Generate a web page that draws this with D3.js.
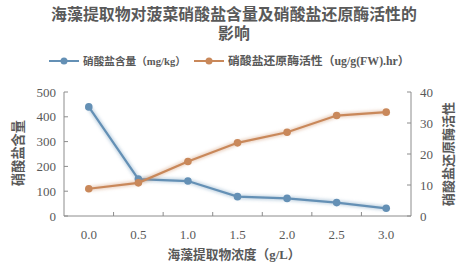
<!DOCTYPE html>
<html>
<head>
<meta charset="utf-8">
<script src="https://cdn.jsdelivr.net/npm/d3@7"></script>
<style>
  body { margin: 0; background: #fff; }
  svg text { fill: #595959; }
  .cjk { font-family: "Liberation Serif", "Noto Sans CJK SC", serif; }
  .num { font-family: "Liberation Serif", serif; }
</style>
</head>
<body>
<div id="chart"></div>
<script>
// data
const concentrations = ["0.0", "0.5", "1.0", "1.5", "2.0", "2.5", "3.0"];
const nitrate = [440, 149, 141, 78, 71, 54, 31];          // mg/kg, left axis
const reductase = [8.8, 10.7, 17.6, 23.6, 27.0, 32.4, 33.5]; // ug/g(FW).hr, right axis
const leftTicks = [0, 100, 200, 300, 400, 500];
const rightTicks = [0, 10, 20, 30, 40];

const W = 469, H = 275;
const margin = {top: 92, right: 58, bottom: 59, left: 64};
const blue = "#6490b5", orange = "#c9885a", axisCol = "#8c8c8c";

const svg = d3.select("#chart").append("svg")
    .attr("width", W).attr("height", H);

// soft glow like the original's line shadow
svg.append("defs").append("filter").attr("id", "glow")
    .attr("x", "-10%").attr("y", "-10%").attr("width", "120%").attr("height", "120%")
    .append("feGaussianBlur").attr("stdDeviation", 1.5);

// scale a text's font so it spans the given width
function fitWidth(sel, w) {
    const fs = parseFloat(sel.style("font-size"));
    const len = sel.node().getComputedTextLength();
    if (len > 0) sel.style("font-size", (fs * w / len) + "px");
}

const x = d3.scaleBand()
    .domain(concentrations)
    .range([margin.left, W - margin.right]);
const yL = d3.scaleLinear().domain([0, 500]).range([H - margin.bottom, margin.top]);
const yR = d3.scaleLinear().domain([0, 40]).range([H - margin.bottom, margin.top]);
const cx = d => x(d) + x.bandwidth() / 2;

// title, two lines in one text element
const title = svg.append("text").attr("class", "cjk")
    .attr("text-anchor", "middle")
    .style("font-size", "15px").style("font-weight", "bold");
const t1 = title.append("tspan").attr("x", 234).attr("y", 20)
    .text("海藻提取物对菠菜硝酸盐含量及硝酸盐还原酶活性的");
title.append("tspan").attr("x", 234).attr("y", 39)
    .text("影响");
{
    const len = t1.node().getComputedTextLength();
    if (len > 0) title.style("font-size", (15 * 366 / len) + "px");
}

// legend
const legendItems = [
    {name: "硝酸盐含量（mg/kg）", color: blue, x: 49, w: 103},
    {name: "硝酸盐还原酶活性（ug/g(FW).hr）", color: orange, x: 194, w: 182}
];
const lg = svg.append("g").selectAll("g").data(legendItems).join("g")
    .attr("transform", d => `translate(${d.x},61)`);
lg.append("line").attr("x1", 0).attr("x2", 30)
    .attr("stroke", d => d.color).attr("stroke-width", 2);
lg.append("circle").attr("cx", 15).attr("r", 3.5).attr("fill", d => d.color);
lg.append("text").attr("class", "cjk")
    .attr("x", 34).attr("y", 4)
    .style("font-size", "12px").style("font-weight", "bold")
    .text(d => d.name)
    .each(function(d) { fitWidth(d3.select(this), d.w); });

// axes
const base = H - margin.bottom;
svg.append("line")
    .attr("x1", margin.left).attr("x2", W - margin.right)
    .attr("y1", base).attr("y2", base)
    .attr("stroke", axisCol);
svg.append("line")
    .attr("x1", margin.left).attr("x2", margin.left)
    .attr("y1", yL(500)).attr("y2", base)
    .attr("stroke", axisCol);
svg.append("line")
    .attr("x1", W - margin.right).attr("x2", W - margin.right)
    .attr("y1", yR(40)).attr("y2", base)
    .attr("stroke", axisCol);

// x ticks at band boundaries
svg.append("g").selectAll("line").data(concentrations.slice(1)).join("line")
    .attr("x1", d => x(d)).attr("x2", d => x(d))
    .attr("y1", base).attr("y2", base - 4)
    .attr("stroke", axisCol);
svg.append("g").selectAll("text").data(concentrations).join("text")
    .attr("class", "num")
    .attr("x", cx).attr("y", base + 23)
    .attr("text-anchor", "middle")
    .style("font-size", "13px")
    .text(d => d);

// left ticks
svg.append("g").selectAll("line").data(leftTicks).join("line")
    .attr("x1", margin.left).attr("x2", margin.left + 4)
    .attr("y1", d => yL(d)).attr("y2", d => yL(d))
    .attr("stroke", axisCol);
svg.append("g").selectAll("text").data(leftTicks).join("text")
    .attr("class", "num")
    .attr("x", margin.left - 8).attr("y", d => yL(d) + 4.5)
    .attr("text-anchor", "end")
    .style("font-size", "13px")
    .text(d => d);

// right ticks
svg.append("g").selectAll("line").data(rightTicks).join("line")
    .attr("x1", W - margin.right - 4).attr("x2", W - margin.right)
    .attr("y1", d => yR(d)).attr("y2", d => yR(d))
    .attr("stroke", axisCol);
svg.append("g").selectAll("text").data(rightTicks).join("text")
    .attr("class", "num")
    .attr("x", W - margin.right + 9).attr("y", d => yR(d) + 4.5)
    .attr("text-anchor", "start")
    .style("font-size", "13px")
    .text(d => d);

// axis titles
const yTitleL = svg.append("text").attr("class", "cjk")
    .attr("transform", "translate(23,153) rotate(-90)")
    .attr("text-anchor", "middle")
    .style("font-size", "13px").style("font-weight", "bold")
    .text("硝酸盐含量");
fitWidth(yTitleL, 66);
const yTitleR = svg.append("text").attr("class", "cjk")
    .attr("transform", "translate(453,154) rotate(-90)")
    .attr("text-anchor", "middle")
    .style("font-size", "13px").style("font-weight", "bold")
    .text("硝酸盐还原酶活性");
fitWidth(yTitleR, 104);
const xTitle = svg.append("text").attr("class", "cjk")
    .attr("x", 234).attr("y", 259)
    .attr("text-anchor", "middle")
    .style("font-size", "13px").style("font-weight", "bold")
    .text("海藻提取物浓度（g/L）");
fitWidth(xTitle, 133);

// series
const series = [
    {values: nitrate, y: yL, color: blue},
    {values: reductase, y: yR, color: orange}
];
series.forEach(s => {
    const pts = concentrations.map((c, i) => [cx(c), s.y(s.values[i])]);
    const line = d3.line()(pts);
    svg.append("path")
        .attr("d", line)
        .attr("fill", "none")
        .attr("stroke", s.color)
        .attr("stroke-opacity", 0.35)
        .attr("stroke-width", 5)
        .attr("filter", "url(#glow)");
    svg.append("path")
        .attr("d", line)
        .attr("fill", "none")
        .attr("stroke", s.color)
        .attr("stroke-width", 2.2);
    svg.append("g").selectAll("circle").data(pts).join("circle")
        .attr("cx", d => d[0]).attr("cy", d => d[1])
        .attr("r", 3.8)
        .attr("fill", s.color);
});
</script>
</body>
</html>
